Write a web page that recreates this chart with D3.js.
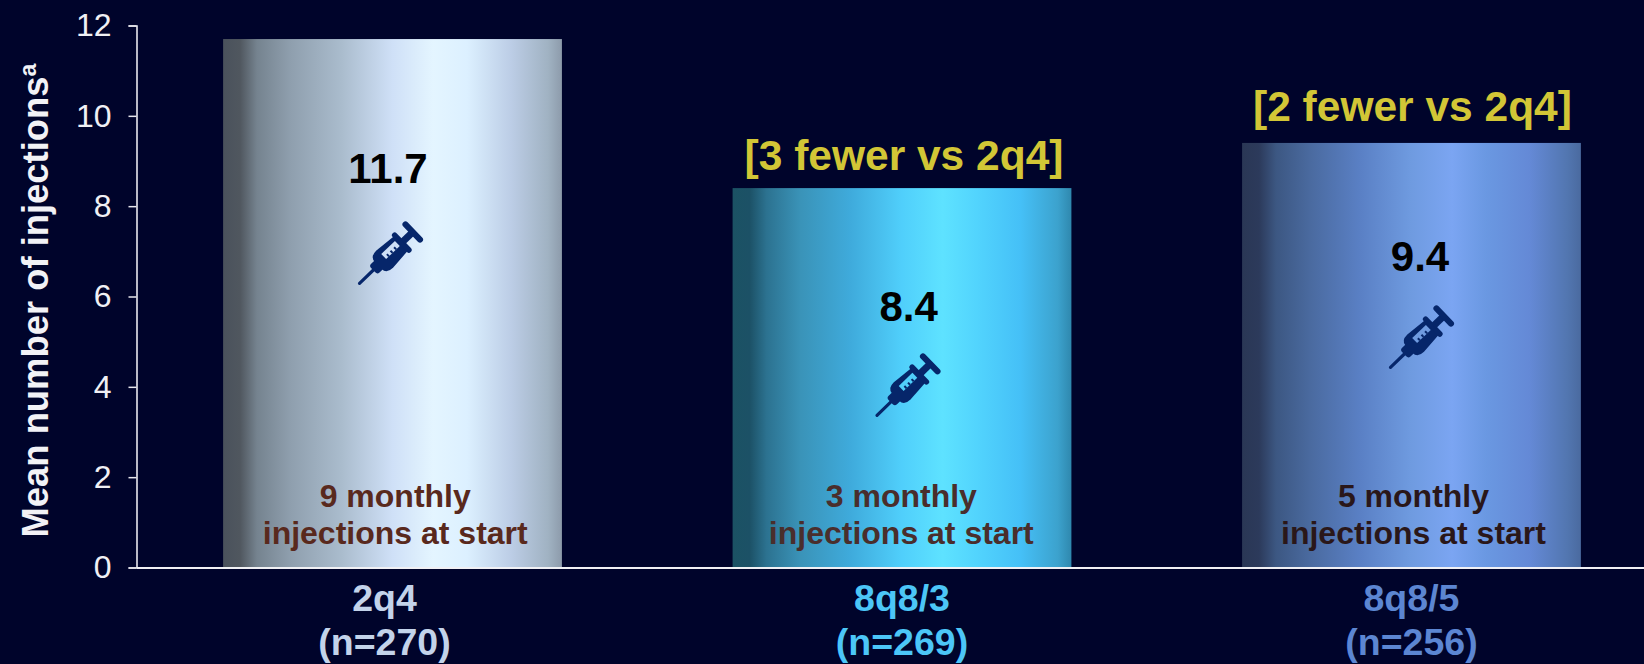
<!DOCTYPE html>
<html>
<head>
<meta charset="utf-8">
<script src="https://cdnjs.cloudflare.com/ajax/libs/d3/7.8.5/d3.min.js"></script>
<style>
  html, body { margin: 0; padding: 0; background: #00042b; overflow: hidden; }
  svg { display: block; font-family: "Liberation Sans", Arial, sans-serif; }
</style>
</head>
<body>
<div id="chart"></div>
<script>
const categories = ['2q4', '8q8/3', '8q8/5'];
const sampleSizes = ['(n=270)', '(n=269)', '(n=256)'];
const meanInjections = [11.7, 8.4, 9.4];
const startNotes = ['9 monthly', '3 monthly', '5 monthly'];
const comparisons = [null, '[3 fewer vs 2q4]', '[2 fewer vs 2q4]'];
const yTicks = [0, 2, 4, 6, 8, 10, 12];

const categoryColors = ['#c3d3ea', '#4cc6f7', '#5c86d2'];
const noteColors = ['#59291d', '#4a2e2c', '#2a1719'];
const gradientStops = [0, 0.05, 0.1, 0.2, 0.35, 0.5, 0.62, 0.72, 0.85, 0.96, 1];
const gradients = [
  ['#4a525c', '#50575f', '#75838f', '#8f9fae', '#aabccd', '#cfe0f7', '#e4f5ff', '#dcf0ff', '#bccde6', '#a0b2c2', '#8d9bab'],
  ['#1b5264', '#1c5166', '#2c7290', '#3a93b8', '#3fabdc', '#50cffb', '#5ee2ff', '#52d4fd', '#45c0f7', '#3ca2cd', '#2f88ae'],
  ['#2a3755', '#2c3a5b', '#3c5782', '#4a6a9f', '#5a80c5', '#6f9be0', '#7ba5f2', '#6a98e2', '#6489d6', '#5276b0', '#4a6a9f']
];

const width = 1644;
const height = 664;

const svg = d3.select('#chart').append('svg')
  .attr('width', width)
  .attr('height', height);

const y = d3.scaleLinear().domain([0, 12]).range([567.5, 25.5]);
const x = d3.scaleBand()
  .domain(categories)
  .range([136.5, 1667.5])
  .paddingInner(0.335)
  .paddingOuter(0.17);

// horizontal shading that makes the bars look like cylinders
const defs = svg.append('defs');
gradients.forEach((stops, i) => {
  const grad = defs.append('linearGradient')
    .attr('id', `bar-${i}`)
    .attr('x1', 0).attr('x2', 1).attr('y1', 0).attr('y2', 0);
  stops.forEach((c, j) => {
    grad.append('stop').attr('offset', gradientStops[j]).attr('stop-color', c);
  });
});

svg.selectAll('rect.bar')
  .data(categories)
  .enter().append('rect')
  .attr('class', 'bar')
  .attr('x', d => x(d))
  .attr('width', x.bandwidth())
  .attr('y', (d, i) => y(meanInjections[i]))
  .attr('height', (d, i) => y(0) - y(meanInjections[i]))
  .attr('fill', (d, i) => `url(#bar-${i})`);

// axes
const yAxis = d3.axisLeft(y).tickValues(yTicks).tickSize(8).tickPadding(17);
const yG = svg.append('g').attr('transform', 'translate(136.5,0)').call(yAxis);
yG.select('.domain').attr('stroke', '#e8e8ee').attr('stroke-width', 1.6);
yG.selectAll('.tick line').attr('stroke', '#e8e8ee').attr('stroke-width', 1.5);
yG.selectAll('.tick text')
  .attr('fill', '#f0f0f4')
  .attr('font-size', 32)
  .attr('font-family', '"Liberation Sans", Arial, sans-serif');

const xAxis = d3.axisBottom(x).tickSize(0).tickFormat('');
const xG = svg.append('g').attr('transform', `translate(0,${y(0)})`).call(xAxis);
xG.select('.domain').attr('stroke', '#f0f0f4').attr('stroke-width', 2);

svg.append('text')
  .attr('transform', `translate(48,${y(0) - 30}) rotate(-90)`)
  .attr('fill', '#f2f2f6')
  .attr('font-size', 36.4)
  .attr('font-weight', 'bold')
  .text('Mean number of injections')
  .append('tspan')
  .attr('dy', -12)
  .attr('font-size', 23)
  .text('a');

// category labels under the axis
const labelShift = [-8, 0, 0];
categories.forEach((c, i) => {
  const cx = x(c) + x.bandwidth() / 2 + labelShift[i];
  const g = svg.append('g')
    .attr('text-anchor', 'middle')
    .attr('fill', categoryColors[i])
    .attr('font-size', 37.5)
    .attr('font-weight', 'bold');
  g.append('text').attr('x', cx).attr('y', 611).text(c);
  g.append('text').attr('x', cx).attr('y', 655).text(sampleSizes[i]);
});

// labels inside the bars, drops are in axis units below the bar top
const valueDrop = [2.85, 2.6, 2.5];
const syringeDrop = [5.41, 5.03, 4.97];
const valueShift = [-4.5, 6.7, 8.5];
const syringeShift = [-33, -25, -21];
const noteShift = [2.7, -0.7, 2];
const comparisonLift = [0, 18, 22];

function drawSyringe(sel, windowColor) {
  const ink = '#06266a';
  // drawn along +x from the needle tip, group is rotated afterwards
  sel.append('line').attr('x1', 0).attr('x2', 24).attr('y1', 0).attr('y2', 0)
    .attr('stroke', ink).attr('stroke-width', 3.2).attr('stroke-linecap', 'round');
  sel.append('rect').attr('x', 19).attr('y', -6).attr('width', 10).attr('height', 12).attr('rx', 3).attr('fill', ink);
  sel.append('path')
    .attr('d', 'M26,-5 Q26,-12 35,-12 L58,-10 L58,10 L35,12 Q26,12 26,5 Z')
    .attr('fill', ink);
  sel.append('rect').attr('x', 36).attr('y', -6).attr('width', 19).attr('height', 7).attr('fill', windowColor);
  [39, 44, 49].forEach(t => {
    sel.append('rect').attr('x', t).attr('y', -2).attr('width', 2).attr('height', 3).attr('fill', ink);
  });
  sel.append('rect').attr('x', 56).attr('y', -13).attr('width', 5.5).attr('height', 26).attr('rx', 2.7).attr('fill', ink);
  sel.append('rect').attr('x', 60).attr('y', -3.5).attr('width', 13).attr('height', 7).attr('fill', ink);
  sel.append('rect').attr('x', 71).attr('y', -13.5).attr('width', 6).attr('height', 27).attr('rx', 3).attr('fill', ink);
}

categories.forEach((c, i) => {
  const cx = x(c) + x.bandwidth() / 2;
  const v = meanInjections[i];

  svg.append('text')
    .attr('x', cx + valueShift[i]).attr('y', y(v - valueDrop[i]) + 15)
    .attr('text-anchor', 'middle')
    .attr('font-size', 42)
    .attr('font-weight', 'bold')
    .attr('fill', '#000')
    .text(d3.format('.1f')(v));

  svg.append('g')
    .attr('transform', `translate(${cx + syringeShift[i]},${y(v - syringeDrop[i])}) rotate(-44)`)
    .call(drawSyringe, gradients[i][5]);

  const note = svg.append('g')
    .attr('text-anchor', 'middle')
    .attr('font-size', 32)
    .attr('font-weight', 'bold')
    .attr('fill', noteColors[i]);
  note.append('text').attr('x', cx + noteShift[i]).attr('y', 507).text(startNotes[i]);
  note.append('text').attr('x', cx + noteShift[i]).attr('y', 544).text('injections at start');

  if (comparisons[i]) {
    svg.append('text')
      .attr('x', cx + 3 - i)
      .attr('y', y(v) - comparisonLift[i])
      .attr('text-anchor', 'middle')
      .attr('font-size', 42.5)
      .attr('font-weight', 'bold')
      .attr('fill', '#d2c636')
      .text(comparisons[i]);
  }
});
</script>
</body>
</html>
